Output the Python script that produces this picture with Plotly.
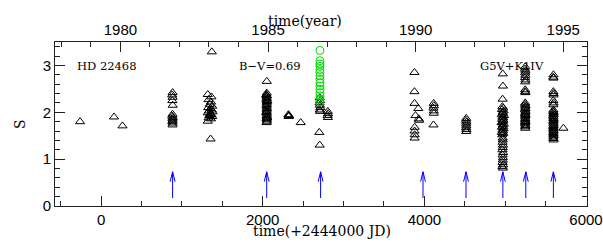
import plotly.graph_objects as go

# S index measurements (time in JD - 2444000), triangles grouped by observing season
t_1979 = [-260, 160, 265]
s_1979 = [1.80, 1.90, 1.71]

t_1981 = [885, 880, 885, 882, 886, 884, 880, 887, 883, 885, 881, 886, 884]
s_1981 = [2.42, 2.37, 2.32, 2.25, 2.15, 1.96, 1.92, 1.89, 1.86, 1.83, 1.80, 1.77, 1.73]

t_1983 = [1370, 1355, 1320, 1365, 1330, 1360, 1345, 1375, 1325, 1355, 1370, 1335,
          1380, 1320, 1350, 1365, 1340, 1375, 1330, 1360, 1320]
s_1983 = [3.29, 1.43, 2.38, 2.33, 2.27, 2.22, 2.17, 2.13, 2.10, 2.08, 2.05, 2.03,
          2.01, 1.99, 1.97, 1.95, 1.93, 1.91, 1.88, 1.86, 1.81]

t_1985 = [2050, 2050, 2045, 2052, 2048, 2050, 2046, 2053, 2049, 2051, 2047, 2050, 2052,
          2048, 2050, 2046, 2053, 2049, 2051, 2047, 2050, 2052, 2048, 2045, 2055, 2045, 2055,
          2318, 2322, 2320, 2325, 2470]
s_1985 = [2.66, 2.41, 2.38, 2.35, 2.32, 2.29, 2.26, 2.23, 2.20, 2.17, 2.14, 2.11, 2.08,
          2.05, 2.02, 1.99, 1.96, 1.93, 1.90, 1.87, 1.84, 1.81, 1.78, 2.36, 2.25, 2.00, 1.88,
          1.95, 1.93, 1.91, 1.92, 1.78]

t_1986 = [2705, 2710, 2703, 2708, 2712, 2706, 2709, 2700, 2705, 2805, 2808, 2803, 2806]
s_1986 = [2.31, 2.25, 2.20, 2.15, 2.10, 2.05, 2.02, 1.57, 1.30, 2.02, 1.97, 1.93, 1.89]

t_1990 = [3877, 3877, 3878, 3925, 3890, 3930, 3935, 3880, 3878, 3880, 3879,
          4115, 4118, 4112, 4115, 4117, 4113]
s_1990 = [2.85, 2.44, 2.19, 2.08, 1.93, 1.86, 1.83, 1.68, 1.60, 1.52, 1.45,
          2.19, 2.14, 2.09, 2.03, 1.98, 1.73]

t_1991 = [4518, 4515, 4520, 4517, 4519, 4516, 4520, 4518]
s_1991 = [1.87, 1.83, 1.79, 1.75, 1.71, 1.67, 1.63, 1.59]

t_1993 = [4970, 4972, 4968, 4965, 4975, 4960, 4980, 4968, 4972, 4958, 4985, 4965,
          4975, 4962, 4978, 4970, 4955, 4982, 4968, 4974, 4960, 4980, 4966, 4972,
          4958, 4976, 4964, 4970, 4968, 4972, 4970, 4966, 4974, 4968, 4972, 4970,
          4968, 4974, 4966, 4972, 4970]
s_1993 = [2.82, 2.56, 2.28, 2.12, 2.09, 2.06, 2.03, 2.00, 1.98, 1.95, 1.93, 1.90,
          1.88, 1.85, 1.83, 1.80, 1.78, 1.75, 1.73, 1.70, 1.68, 1.65, 1.62, 1.60,
          1.57, 1.55, 1.52, 1.41, 1.36, 1.30, 1.25, 1.20, 1.14, 1.09, 1.03, 0.98,
          0.93, 0.88, 0.84, 0.81, 1.45]

t_1994 = [5248, 5245, 5250, 5247, 5249, 5246, 5251, 5248, 5247, 5250,
          5248, 5245, 5251, 5247, 5250, 5244, 5252, 5248, 5246, 5250, 5247, 5249,
          5245, 5251, 5248, 5246, 5250, 5247, 5249, 5248, 5250, 5246]
s_1994 = [2.97, 2.92, 2.88, 2.84, 2.79, 2.74, 2.69, 2.65, 2.48, 2.42,
          2.20, 2.17, 2.14, 2.11, 2.08, 2.05, 2.02, 1.99, 1.96, 1.93, 1.90, 1.87,
          1.84, 1.81, 1.78, 1.75, 1.72, 1.69, 1.66, 2.44, 1.95, 1.80]

t_1995 = [5597, 5595, 5598, 5596, 5599, 5597, 5595, 5598, 5596,
          5597, 5594, 5599, 5596, 5600, 5593, 5598, 5595, 5601, 5597, 5594, 5599,
          5596, 5600, 5593, 5598, 5595, 5597, 5599, 5594, 5598, 5596, 5600, 5595,
          5597, 5599, 5720]
s_1995 = [2.80, 2.75, 2.73, 2.44, 2.40, 2.37, 2.25, 2.20, 2.16,
          2.05, 2.02, 2.00, 1.97, 1.95, 1.92, 1.90, 1.87, 1.85, 1.82, 1.80, 1.77,
          1.75, 1.72, 1.70, 1.67, 1.65, 1.62, 1.60, 1.57, 1.55, 1.52, 1.50, 1.47,
          1.44, 1.41, 1.66]

# green circles (1986 season)
t_green = [2708] * 15
s_green = [3.32, 3.10, 3.03, 2.98, 2.91, 2.85, 2.78, 2.71, 2.63, 2.56, 2.49,
           2.42, 2.35, 2.28, 2.22]

# blue arrows
arrow_t = [885, 2049, 2716, 3983, 4515, 4971, 5255, 5596]
arrow_base = 0.17
arrow_tip = 0.73

x_range = [-570, 6012]
y_range = [0, 3.5]


def jd_to_year(t):
    return 1980 + (t - 239.5) / 365.25


tri_t = t_1979 + t_1981 + t_1983 + t_1985 + t_1986 + t_1990 + t_1991 + t_1993 + t_1994 + t_1995
tri_s = s_1979 + s_1981 + s_1983 + s_1985 + s_1986 + s_1990 + s_1991 + s_1993 + s_1994 + s_1995
year_range = [jd_to_year(x_range[0]), jd_to_year(x_range[1])]

fig = go.Figure()

fig.add_trace(go.Scatter(
    x=tri_t, y=tri_s, mode='markers',
    marker=dict(symbol='triangle-up-open', size=8, color='black'),
))
fig.add_trace(go.Scatter(
    x=t_green, y=s_green, mode='markers',
    marker=dict(symbol='circle-open', size=8, color='#00dd00'),
))

# arrows
ax, ay = [], []
for t in arrow_t:
    ax += [t, t, None, t - 30, t, t + 30, None]
    ay += [arrow_base, arrow_tip, None, arrow_tip - 0.21, arrow_tip, arrow_tip - 0.21, None]
fig.add_trace(go.Scatter(x=ax, y=ay, mode='lines', line=dict(color='blue', width=1)))

# year axis on top: the span of the JD axis in years
fig.add_trace(go.Scatter(x=year_range, y=y_range, xaxis='x2', mode='markers',
                         marker=dict(size=1, color='rgba(255,255,255,0)')))

serif = 'DejaVu Serif'

ml, mr, mt, mb = 55, 16, 42, 46
plot_w = 603 - ml - mr
plot_h = 252 - mt - mb


def px_x(px):
    return (px - ml) / plot_w


def px_y(py):
    return (252 - mb - py) / plot_h


fig.update_layout(
    template='none',
    width=603, height=252,
    margin=dict(l=ml, r=mr, t=mt, b=mb),
    showlegend=False,
    font=dict(family='Liberation Sans', size=15, color='black'),
    xaxis=dict(range=x_range, dtick=2000, ticks='inside', ticklen=10,
               showline=True, linewidth=1, linecolor='#222', tickcolor='#222',
               showgrid=False, zeroline=False,
               minor=dict(dtick=500, ticks='inside', ticklen=5)),
    xaxis2=dict(range=year_range, overlaying='x', side='top', dtick=5,
                ticks='inside', ticklen=10, showline=True, linewidth=1,
                linecolor='#222', tickcolor='#222', showgrid=False, zeroline=False,
                minor=dict(dtick=1, ticks='inside', ticklen=5)),
    yaxis=dict(range=y_range, dtick=1, ticks='inside', ticklen=10,
               showline=True, linewidth=1, linecolor='#222', tickcolor='#222',
               mirror='ticks', showgrid=False, zeroline=False,
               minor=dict(dtick=0.2, ticks='inside', ticklen=5)),
    annotations=[
        dict(text='HD 22468', x=px_x(75), y=px_y(57), xref='paper', yref='paper',
             xanchor='left', showarrow=False, font=dict(family=serif, size=11.5)),
        dict(text='B\u2212V=0.69', x=px_x(237), y=px_y(57), xref='paper', yref='paper',
             xanchor='left', showarrow=False, font=dict(family=serif, size=11.5)),
        dict(text='G5V+K1IV', x=px_x(546), y=px_y(57), xref='paper', yref='paper',
             xanchor='right', showarrow=False, font=dict(family=serif, size=11.5)),
        dict(text='time(year)', x=px_x(305), y=px_y(11), xref='paper', yref='paper',
             showarrow=False, font=dict(family=serif, size=14)),
        dict(text='time(+2444000 JD)', x=px_x(322), y=px_y(241), xref='paper',
             yref='paper', showarrow=False, font=dict(family=serif, size=14)),
        dict(text='S', x=px_x(10), y=px_y(124), xref='paper', yref='paper',
             textangle=-90, showarrow=False, font=dict(family=serif, size=14)),
    ],
)

fig.write_html("out.html", post_script="document.body.style.margin='0';",
               config={'displayModeBar': False})
